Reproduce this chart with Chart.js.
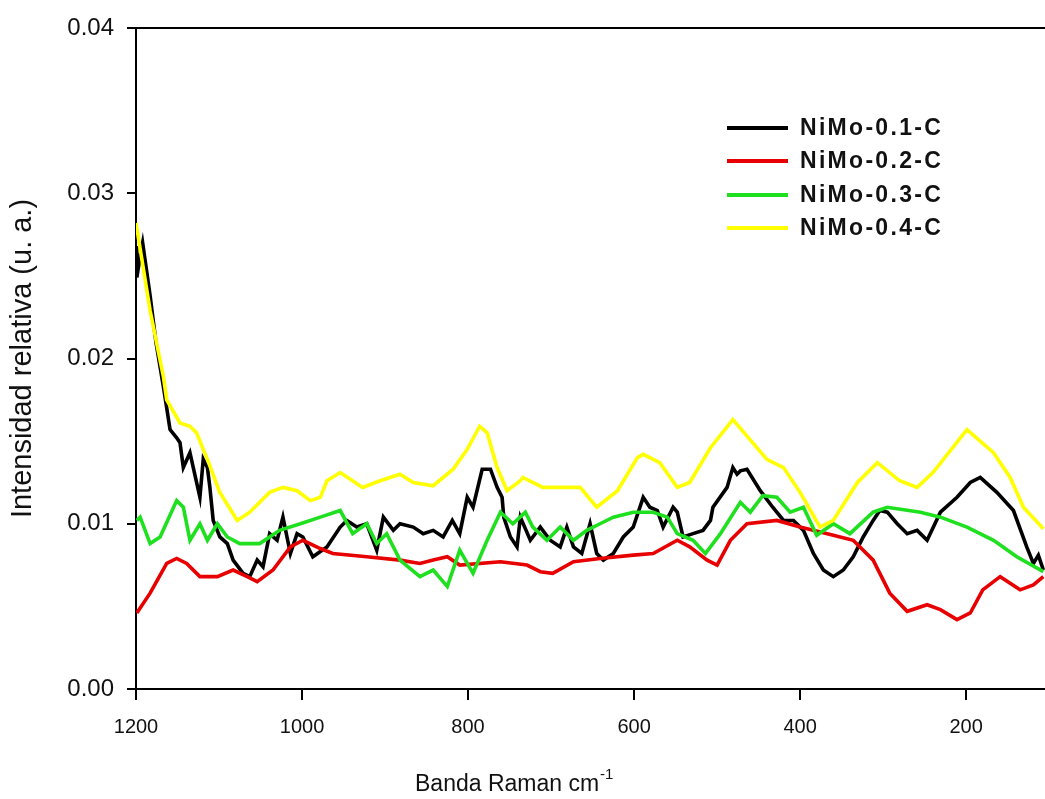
<!DOCTYPE html>
<html>
<head>
<meta charset="utf-8">
<script src="https://cdn.jsdelivr.net/npm/chart.js@4"></script>
<style>
  html, body { margin: 0; padding: 0; background: #fff; }
  #wrap { width: 1045px; height: 799px; }
</style>
</head>
<body>
<div id="wrap"><canvas id="chart" width="1045" height="799"></canvas></div>
<script>
const seriesNames = ["NiMo-0.1-C", "NiMo-0.2-C", "NiMo-0.3-C", "NiMo-0.4-C"];
const xTicks = [1200, 1000, 800, 600, 400, 200];
const yTicks = [0, 0.01, 0.02, 0.03, 0.04];
const xTitle = "Banda Raman cm";
const xTitleSup = "-1";
const yTitle = "Intensidad relativa (u. a.)";

// NiMo-0.1-C (black)
const blackX = [1200, 1199, 1195, 1192, 1183, 1176, 1167, 1163, 1159, 1151, 1147, 1143, 1135, 1131, 1123, 1119, 1114, 1111, 1107, 1099,
  1090, 1083, 1071, 1063, 1054, 1047, 1039, 1030, 1023, 1014, 1006, 999, 987, 970, 954, 946, 934, 922, 910, 902,
  890, 882, 866, 854, 842, 830, 819, 810, 801, 794, 783, 773, 765, 759, 757, 749, 741, 737, 725, 713,
  701, 689, 681, 673, 663, 653, 645, 637, 625, 613, 601, 589, 581, 572, 565, 553, 548, 541, 529, 517,
  508, 505, 488, 481, 476, 472, 464, 448, 433, 420, 408, 396, 384, 372, 360, 348, 336, 324, 312, 304,
  295, 283, 271, 259, 247, 231, 211, 195, 183, 163, 143, 127, 119, 113, 107];
const blackY = [0.0268, 0.0249, 0.0262, 0.0270, 0.0238, 0.0210, 0.0183, 0.0170, 0.0157, 0.0152, 0.0149, 0.0134, 0.0143, 0.0134, 0.0116, 0.0139, 0.0134, 0.0122, 0.0102, 0.0092,
  0.0088, 0.0078, 0.0070, 0.0068, 0.0078, 0.0074, 0.0094, 0.0090, 0.0104, 0.0082, 0.0094, 0.0092, 0.0080, 0.0086, 0.0098, 0.0102, 0.0098, 0.0100, 0.0084, 0.0104,
  0.0096, 0.0100, 0.0098, 0.0094, 0.0096, 0.0092, 0.0102, 0.0094, 0.0116, 0.0110, 0.0133, 0.0133, 0.0122, 0.0116, 0.0104, 0.0092, 0.0086, 0.0104, 0.0090, 0.0098,
  0.0090, 0.0086, 0.0098, 0.0086, 0.0082, 0.0100, 0.0082, 0.0078, 0.0082, 0.0092, 0.0098, 0.0116, 0.0110, 0.0108, 0.0098, 0.0110, 0.0107, 0.0092, 0.0094, 0.0096,
  0.0102, 0.0110, 0.0122, 0.0134, 0.0130, 0.0132, 0.0133, 0.0120, 0.0110, 0.0102, 0.0102, 0.0096, 0.0082, 0.0072, 0.0068, 0.0072, 0.0080, 0.0092, 0.0102, 0.0108,
  0.0107, 0.0100, 0.0094, 0.0096, 0.0090, 0.0107, 0.0116, 0.0125, 0.0128, 0.0119, 0.0108, 0.0086, 0.0076, 0.0081, 0.0072];

// NiMo-0.2-C (red)
const redX = [1199, 1183, 1163, 1151, 1139, 1123, 1102, 1083, 1066, 1054, 1035, 1014, 999, 978, 963, 922, 882, 858, 842, 825,
  810, 761, 729, 713, 698, 673, 641, 601, 577, 548, 533, 512, 500, 484, 464, 428, 400, 360, 336, 312,
  292, 271, 247, 231, 211, 195, 180, 159, 135, 119, 107];
const redY = [0.0046, 0.0058, 0.0076, 0.0079, 0.0076, 0.0068, 0.0068, 0.0072, 0.0068, 0.0065, 0.0072, 0.0086, 0.0090, 0.0085, 0.0082, 0.0080, 0.0078, 0.0076, 0.0078, 0.0080,
  0.0075, 0.0077, 0.0075, 0.0071, 0.0070, 0.0077, 0.0079, 0.0081, 0.0082, 0.0090, 0.0086, 0.0078, 0.0075, 0.0090, 0.0100, 0.0102, 0.0098, 0.0093, 0.0090, 0.0078,
  0.0058, 0.0047, 0.0051, 0.0048, 0.0042, 0.0046, 0.0060, 0.0068, 0.0060, 0.0063, 0.0068];

// NiMo-0.3-C (green)
const greenX = [1199, 1195, 1183, 1171, 1151, 1143, 1135, 1123, 1114, 1102, 1090, 1075, 1051, 1027, 1002, 978, 954, 939, 922, 910,
  898, 882, 858, 842, 825, 810, 794, 777, 761, 746, 731, 722, 705, 689, 673, 657, 641, 625, 601, 577,
  560, 548, 529, 514, 496, 472, 460, 445, 428, 412, 396, 380, 360, 340, 312, 295, 255, 231, 199, 167,
  139, 107];
const greenY = [0.0102, 0.0104, 0.0088, 0.0092, 0.0114, 0.0110, 0.0090, 0.0100, 0.0090, 0.0100, 0.0092, 0.0088, 0.0088, 0.0096, 0.0100, 0.0104, 0.0108, 0.0094, 0.0100, 0.0088,
  0.0094, 0.0078, 0.0068, 0.0072, 0.0062, 0.0084, 0.0070, 0.0090, 0.0107, 0.0100, 0.0107, 0.0098, 0.0090, 0.0098, 0.0090, 0.0096, 0.0100, 0.0104, 0.0107, 0.0107,
  0.0104, 0.0094, 0.0090, 0.0082, 0.0094, 0.0113, 0.0107, 0.0117, 0.0116, 0.0107, 0.0110, 0.0093, 0.0100, 0.0094, 0.0107, 0.0110, 0.0107, 0.0104, 0.0098, 0.0090,
  0.0080, 0.0071];

// NiMo-0.4-C (yellow)
const yellowX = [1200, 1183, 1167, 1163, 1147, 1135, 1127, 1119, 1114, 1099, 1078, 1063, 1039, 1023, 1006, 990, 978, 970, 954, 927,
  906, 882, 866, 842, 818, 801, 786, 777, 765, 753, 737, 734, 710, 686, 665, 645, 620, 596, 589, 569,
  548, 533, 508, 481, 440, 420, 400, 376, 360, 331, 307, 280, 259, 240, 199, 167, 147, 131, 107];
const yellowY = [0.0282, 0.0229, 0.0189, 0.0175, 0.0161, 0.0159, 0.0155, 0.0145, 0.0139, 0.0119, 0.0102, 0.0107, 0.0119, 0.0122, 0.0120, 0.0114, 0.0116, 0.0126, 0.0131, 0.0122,
  0.0126, 0.0130, 0.0125, 0.0123, 0.0133, 0.0145, 0.0159, 0.0155, 0.0134, 0.0120, 0.0126, 0.0128, 0.0122, 0.0122, 0.0122, 0.0110, 0.0120, 0.0140, 0.0142, 0.0137,
  0.0122, 0.0125, 0.0146, 0.0163, 0.0139, 0.0134, 0.0119, 0.0098, 0.0102, 0.0125, 0.0137, 0.0126, 0.0122, 0.0131, 0.0157, 0.0143, 0.0128, 0.0110, 0.0097];

const colors = ["#000000", "#e80000", "#1fe01f", "#ffff00"];

function pts(xs, ys) {
  return xs.map((x, i) => ({ x, y: ys[i] }));
}

const font = "'Liberation Sans', Arial, sans-serif";

// top frame line, x title with superscript, and the legend inside the plot
const framePlugin = {
  id: "frame",
  afterDraw(chart) {
    const { ctx, chartArea } = chart;
    ctx.save();
    ctx.strokeStyle = "#000";
    ctx.lineWidth = 2;
    ctx.beginPath();
    ctx.moveTo(chartArea.left - 1, chartArea.top);
    ctx.lineTo(chartArea.right, chartArea.top);
    ctx.stroke();

    ctx.fillStyle = "#111";
    ctx.textBaseline = "alphabetic";
    ctx.font = "23px " + font;
    ctx.fillText(xTitle, 415, 791);
    const w = ctx.measureText(xTitle).width;
    ctx.font = "15px " + font;
    ctx.fillText(xTitleSup, 415 + w + 1, 779);

    const x0 = 727, x1 = 788, tx = 800;
    const rows = [128, 161, 195, 228];
    ctx.font = "bold 23px " + font;
    ctx.textBaseline = "middle";
    try { ctx.letterSpacing = "2.3px"; } catch (e) {}
    chart.data.datasets.forEach((ds, i) => {
      ctx.strokeStyle = ds.borderColor;
      ctx.lineWidth = 4;
      ctx.beginPath();
      ctx.moveTo(x0, rows[i]);
      ctx.lineTo(x1, rows[i]);
      ctx.stroke();
      ctx.fillText(ds.label, tx, rows[i] + 1);
    });
    ctx.restore();
  },
};

const series = [
  [blackX, blackY],
  [redX, redY],
  [greenX, greenY],
  [yellowX, yellowY],
];

new Chart(document.getElementById("chart"), {
  type: "line",
  data: {
    datasets: series.map(([xs, ys], i) => ({
      label: seriesNames[i],
      data: pts(xs, ys),
      borderColor: colors[i],
      borderWidth: 3.6,
      pointRadius: 0,
      tension: 0,
      fill: false,
      order: 4 - i,
    })),
  },
  options: {
    responsive: false,
    animation: false,
    devicePixelRatio: 1,
    layout: { padding: { top: 28, right: 0, left: 0, bottom: 0 } },
    plugins: { legend: { display: false }, tooltip: { enabled: false } },
    scales: {
      x: {
        type: "linear",
        reverse: true,
        min: 105,
        max: 1200,
        afterBuildTicks: (s) => { s.ticks = xTicks.map((v) => ({ value: v })); },
        afterFit: (s) => { s.height = 110; },
        border: { display: true, color: "#000", width: 2 },
        grid: { display: true, drawOnChartArea: false, drawTicks: true, tickLength: 11, color: "#000", lineWidth: 2 },
        ticks: { color: "#111", padding: 15, maxRotation: 0, font: { family: font, size: 20 }, callback: (v) => String(v) },
        title: { display: false },
      },
      y: {
        type: "linear",
        min: 0,
        max: 0.04,
        afterBuildTicks: (s) => { s.ticks = yTicks.map((v) => ({ value: v })); },
        afterFit: (s) => { s.width = 136; },
        border: { display: true, color: "#000", width: 2 },
        grid: { display: true, drawOnChartArea: false, drawTicks: true, tickLength: 9, color: "#000", lineWidth: 2 },
        ticks: { color: "#111", padding: 13, font: { family: font, size: 24 }, callback: (v) => v.toFixed(2) },
        title: { display: true, text: yTitle, color: "#111", font: { family: font, size: 29 }, padding: { top: 6, bottom: 0 } },
      },
    },
  },
  plugins: [framePlugin],
});
</script>
</body>
</html>
